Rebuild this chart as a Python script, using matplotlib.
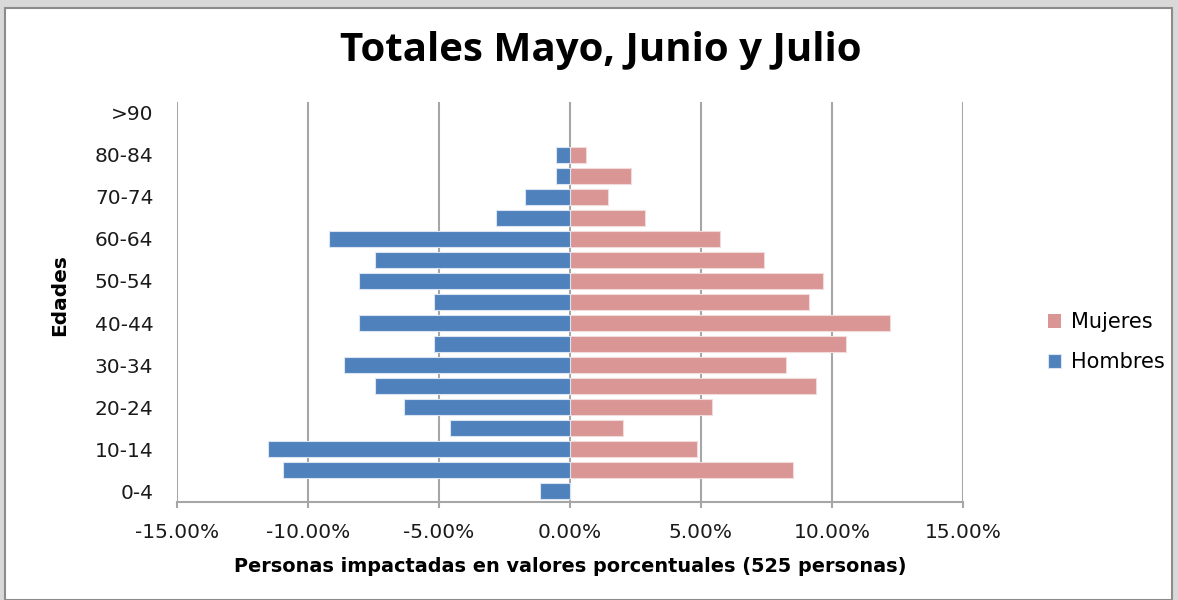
import matplotlib.pyplot as plt
from matplotlib.patches import Rectangle
from matplotlib.ticker import FuncFormatter, MultipleLocator
import numpy as np

plt.rcParams['font.family'] = ['DejaVu Sans']

# age groups, bottom to top
edades = ["0-4", "5-9", "10-14", "15-19", "20-24", "25-29", "30-34", "35-39",
          "40-44", "45-49", "50-54", "55-59", "60-64", "65-69", "70-74",
          "75-79", "80-84", "85-89", ">90"]
# percent of people (men drawn on the negative side)
hombres = [-1.13, -10.95, -11.54, -4.59, -6.34, -7.45, -8.63, -5.18, -8.04,
           -5.18, -8.04, -7.45, -9.20, -2.84, -1.72, -0.55, -0.55, 0, 0]
mujeres = [0, 8.52, 4.84, 2.02, 5.42, 9.40, 8.24, 10.52, 12.21,
           9.11, 9.65, 7.41, 5.72, 2.85, 1.44, 2.31, 0.61, 0, 0]

fig = plt.figure(figsize=(11.78, 6), dpi=100)
fig.patch.set_facecolor("#d9d9d9")
fig.patches.append(Rectangle((5 / 1178, 0), 1167 / 1178, 592 / 600,
                             transform=fig.transFigure, facecolor="white",
                             edgecolor="#8c8c8c", linewidth=1.5, zorder=-5))

ax = fig.add_axes([177 / 1178, 1 - 502 / 600, 786 / 1178, 400 / 600])
ax.set_zorder(2)
ax.set_facecolor("none")
y = np.arange(len(edades))

ax.barh(y, mujeres, height=0.76, color="#d99694", edgecolor="#f2dcdb",
        linewidth=[0.8 if v else 0 for v in mujeres], label="Mujeres", zorder=3)
ax.barh(y, hombres, height=0.76, color="#4f81bd", edgecolor="#dbe5f1",
        linewidth=[0.8 if v else 0 for v in hombres], label="Hombres", zorder=3)

ax.set_xlim(-15, 15)
ax.set_ylim(-0.5, len(edades) - 0.5)
ax.xaxis.set_major_locator(MultipleLocator(5))
ax.xaxis.set_major_formatter(FuncFormatter(lambda v, p: f"{v:.2f}%"))
ax.set_yticks(y[::2])
ax.set_yticklabels(edades[::2])

ax.grid(axis="x", color="#a6a6a6", linewidth=1.5, zorder=0)
for s in ["top", "right", "left"]:
    ax.spines[s].set_visible(False)
ax.spines["bottom"].set_color("#a6a6a6")
ax.spines["bottom"].set_linewidth(1.5)
ax.tick_params(axis="x", colors="#a6a6a6", length=4, width=1.5,
               labelcolor="#1a1a1a", labelsize=14.5, pad=11)
ax.tick_params(axis="y", length=0, labelsize=14.5, labelcolor="#1a1a1a", pad=17)

ax.set_xlabel("Personas impactadas en valores porcentuales (525 personas)",
              fontsize=13.9, fontweight="bold", labelpad=11)
ax.set_ylabel("Edades", fontsize=14.5, fontweight="bold")
ax.yaxis.set_label_coords(-0.137, 0.5175)
fig.suptitle("Totales Mayo, Junio y Julio", fontsize=29, fontweight="bold",
             family="Open Sans", x=601 / 1178, y=1 - 50 / 600, va="center")

h, l = ax.get_legend_handles_labels()
fig.legend(h, l, loc="center left", bbox_to_anchor=(1029 / 1178, 1 - 342 / 600),
           frameon=False, fontsize=15, handlelength=0.65, handleheight=0.65,
           labelspacing=0.95, handletextpad=0.45)

fig.savefig("out.png", dpi=100)
